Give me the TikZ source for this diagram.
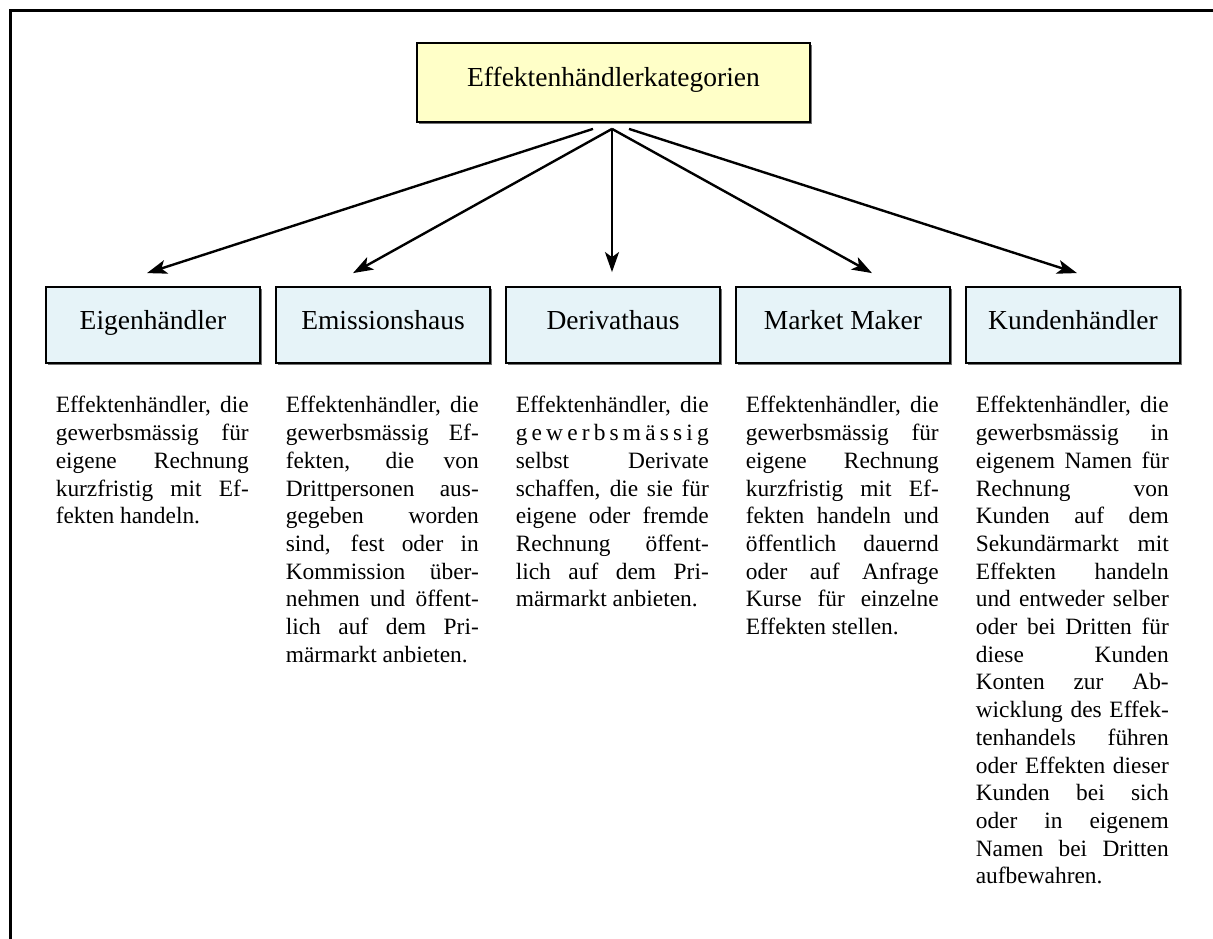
\documentclass[tikz,border=0pt]{standalone}
\usepackage{fontspec}
\setmainfont{Liberation Serif}
\usetikzlibrary{arrows.meta,shadows,calc}
\definecolor{topfill}{HTML}{FFFFC8}
\definecolor{boxfill}{HTML}{E6F3F8}
\newcommand{\jline}[1]{\makebox[\linewidth][s]{\spaceskip=\fontdimen2\font plus 1fil\relax #1}\\}
\newcommand{\lline}[1]{{\spaceskip=\fontdimen2\font\relax #1}}
\begin{document}
\begin{tikzpicture}[x=1pt,y=1pt,
  topbox/.style={draw=black, line width=1.8pt, fill=topfill, minimum width=393pt, minimum height=79pt, inner sep=0pt,
    font=\fontsize{27.5pt}{33pt}\selectfont, text height=15pt, text depth=6pt,
    drop shadow={shadow xshift=1.8pt, shadow yshift=-1.8pt, fill=black!55, opacity=1}},
  catbox/.style={draw=black, line width=1.8pt, fill=boxfill, minimum width=214pt, minimum height=76pt, inner sep=0pt,
    font=\fontsize{27.5pt}{33pt}\selectfont, text height=14pt, text depth=6pt,
    drop shadow={shadow xshift=1.8pt, shadow yshift=-1.8pt, fill=black!55, opacity=1}},
  desc/.style={anchor=base west, inner sep=0pt, text width=193pt, align=left,
    font=\fontsize{23.4pt}{27.7pt}\selectfont},
  arr/.style={line width=2.4pt, -{Stealth[length=20pt, width=14pt, inset=5pt]}},
]
\useasboundingbox (0,0) rectangle (1213,-939);
\draw[line width=3.3pt] (10.5,-10.5) rectangle (1240,-970);

\node[topbox] (top) at (613.5,-82.5) {Effektenhändlerkategorien};

\node[catbox] (b1) at (153,-325) {Eigenhändler};
\node[catbox] (b2) at (383,-325) {Emissionshaus};
\node[catbox] (b3) at (613,-325) {Derivathaus};
\node[catbox] (b4) at (843,-325) {Market Maker};
\node[catbox] (b5) at (1073,-325) {Kundenhändler};

\coordinate (sL) at ($(top.south)+(-20.5,-6)$);
\coordinate (sM) at ($(top.south)+(-1.5,-6)$);
\coordinate (sR) at ($(top.south)+(15.5,-6)$);
\coordinate (t1) at ($(b1.north)+(-6,13)$);
\coordinate (t2) at ($(b2.north)+(-30,13)$);
\coordinate (t3) at ($(b3.north)+(-1,14)$);
\coordinate (t4) at ($(b4.north)+(29,13)$);
\coordinate (t5) at ($(b5.north)+(4,13)$);

\draw[arr] (sL) -- (t1);
\draw[arr] (sM) -- (t2);
\draw[arr] (sM) -- (t3);
\draw[arr] (sM) -- (t4);
\draw[arr] (sR) -- (t5);

\node[desc] (d1) at ($(b1.south west)+(10.5,-49)$) {%
\jline{Effektenhändler, die}
\jline{gewerbsmässig für}
\jline{eigene Rechnung}
\jline{kurzfristig mit Ef-}
\lline{fekten handeln.}};

\node[desc] (d2) at ($(b2.south west)+(10.5,-49)$) {%
\jline{Effektenhändler, die}
\jline{gewerbsmässig Ef-}
\jline{fekten, die von}
\jline{Drittpersonen aus-}
\jline{gegeben worden}
\jline{sind, fest oder in}
\jline{Kommission über-}
\jline{nehmen und öffent-}
\jline{lich auf dem Pri-}
\lline{märmarkt anbieten.}};

\node[desc] (d3) at ($(b3.south west)+(10.5,-49)$) {%
\jline{Effektenhändler, die}
\jline{g\hfill e\hfill w\hfill e\hfill r\hfill b\hfill s\hfill m\hfill ä\hfill s\hfill s\hfill i\hfill g}
\jline{selbst Derivate}
\jline{schaffen, die sie für}
\jline{eigene oder fremde}
\jline{Rechnung öffent-}
\jline{lich auf dem Pri-}
\lline{märmarkt anbieten.}};

\node[desc] (d4) at ($(b4.south west)+(10.5,-49)$) {%
\jline{Effektenhändler, die}
\jline{gewerbsmässig für}
\jline{eigene Rechnung}
\jline{kurzfristig mit Ef-}
\jline{fekten handeln und}
\jline{öffentlich dauernd}
\jline{oder auf Anfrage}
\jline{Kurse für einzelne}
\lline{Effekten stellen.}};

\node[desc] (d5) at ($(b5.south west)+(10.5,-49)$) {%
\jline{Effektenhändler, die}
\jline{gewerbsmässig in}
\jline{eigenem Namen für}
\jline{Rechnung von}
\jline{Kunden auf dem}
\jline{Sekundärmarkt mit}
\jline{Effekten handeln}
\jline{und entweder selber}
\jline{oder bei Dritten für}
\jline{diese Kunden}
\jline{Konten zur Ab-}
\jline{wicklung des Effek-}
\jline{tenhandels führen}
\jline{oder Effekten dieser}
\jline{Kunden bei sich}
\jline{oder in eigenem}
\jline{Namen bei Dritten}
\lline{aufbewahren.}};
\end{tikzpicture}
\end{document}
